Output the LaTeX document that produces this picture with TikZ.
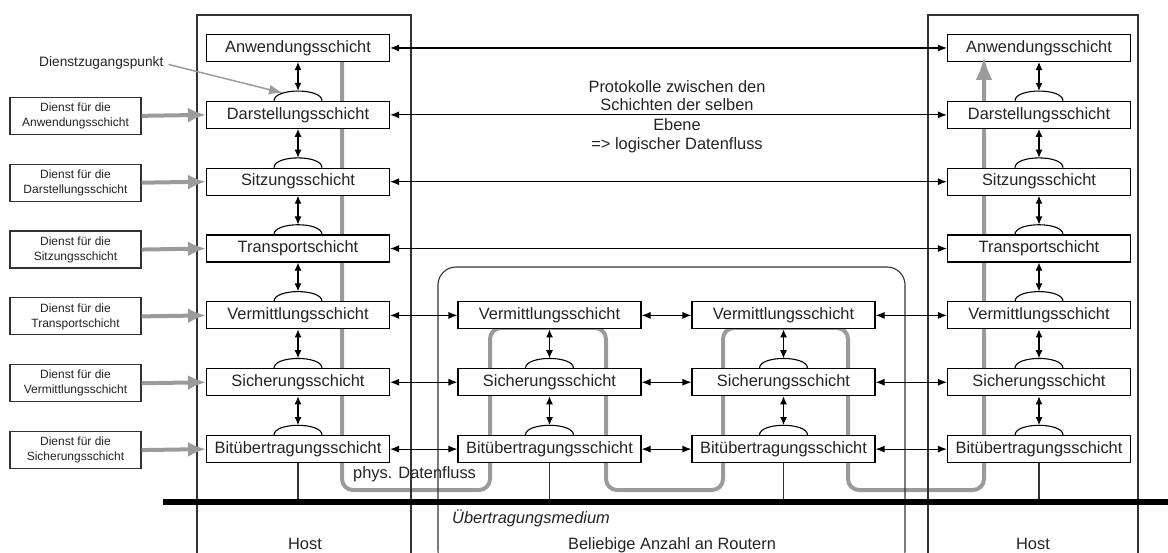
\documentclass[tikz,border=0pt]{standalone}
\usepackage{fontspec}
\setmainfont{Liberation Sans}
\usetikzlibrary{arrows.meta}

\definecolor{flowgray}{RGB}{155,155,155}
\definecolor{framegray}{RGB}{50,50,50}
\definecolor{inkgray}{RGB}{35,35,35}

\tikzset{
  layer/.style={draw=black, fill=white, line width=1.1pt, minimum width=183pt,
    minimum height=27pt, inner sep=0pt, text=inkgray,
    font=\fontsize{16.4}{19}\selectfont},
  svcbox/.style={draw=framegray, fill=white, line width=1.1pt, minimum width=131pt,
    minimum height=37pt, inner sep=0pt, align=center, text=inkgray,
    font=\fontsize{12}{15}\selectfont},
  plain/.style={inner sep=0pt, text=inkgray, font=\fontsize{16.4}{19}\selectfont},
  harr/.style={line width=1.1pt, {Latex[length=9pt,width=7pt]}-{Latex[length=9pt,width=7pt]}},
  varr/.style={line width=1.1pt, {Latex[length=8pt,width=7pt]}-{Latex[length=8pt,width=7pt]}},
  svcarr/.style={draw=flowgray, line width=4pt, -{Latex[length=18pt,width=15pt]}},
  flow/.style={draw=flowgray, line width=4pt},
  frame/.style={draw=framegray, line width=1.1pt},
  bump/.style={line width=1.1pt},
  medium/.style={line width=6pt, black},
  tapline/.style={line width=1.1pt, framegray}
}

\begin{document}
\begin{tikzpicture}[x=1pt,y=-1pt]
\useasboundingbox (0,0) rectangle (1168,553);
\clip (0,0) rectangle (1168,553);

% physical data flow (behind all boxes)
\draw[flow, rounded corners=11pt] (342,55) -- (342,490) -- (490,490) -- (490,328)
  -- (606,328) -- (606,490) -- (723,490) -- (723,328) -- (848,328) -- (848,490)
  -- (984,490) -- (984,75);

% host frames and router frame
\draw[frame] (197,560) -- (197,15) -- (411,15) -- (411,560);
\draw[frame] (928,560) -- (928,15) -- (1138,15) -- (1138,560);
\draw[frame, rounded corners=18pt] (438,267) rectangle (905,569);

% layer stacks
\foreach \n/\t [count=\k from 0] in {1/Anwendungsschicht, 2/Darstellungsschicht,
    3/Sitzungsschicht, 4/Transportschicht, 5/Vermittlungsschicht,
    6/Sicherungsschicht, 7/Bitübertragungsschicht} {
  \node[layer] (L\n) at (298,48+66.85*\k) {\t};
  \node[layer] (R\n) at (1039,48+66.85*\k) {\t};
}
\foreach \n/\t [count=\k from 4] in {5/Vermittlungsschicht, 6/Sicherungsschicht,
    7/Bitübertragungsschicht} {
  \node[layer] (A\n) at (549.5,48+66.85*\k) {\t};
  \node[layer] (B\n) at (783.5,48+66.85*\k) {\t};
}

% service access points and the vertical service arrows
\foreach \s in {L,R} {
  \foreach \u/\l in {1/2,2/3,3/4,4/5,5/6,6/7} {
    \draw[bump] ([xshift=-24pt]\s\l.north) .. controls +(0,-13) and +(0,-13)
      .. ([xshift=24pt]\s\l.north);
    \coordinate (\s top\l) at ([yshift=10pt]\s\l.north);
    \draw[varr] (\s\u.south) -- (\s top\l);
  }
}
\foreach \s in {A,B} {
  \foreach \u/\l in {5/6,6/7} {
    \draw[bump] ([xshift=-24pt]\s\l.north) .. controls +(0,-13) and +(0,-13)
      .. ([xshift=24pt]\s\l.north);
    \coordinate (\s top\l) at ([yshift=10pt]\s\l.north);
    \draw[varr] (\s\u.south) -- (\s top\l);
  }
}

% peer protocols (logical data flow)
\foreach \k in {1,2,3,4} {
  \draw[harr] (L\k.east) -- (R\k.west);
}
\foreach \k in {5,6,7} {
  \draw[harr] (L\k.east) -- (A\k.west);
  \draw[harr] (A\k.east) -- (B\k.west);
  \draw[harr] (B\k.east) -- (R\k.west);
}

% transmission medium and taps
\coordinate (m0) at (163,502);
\coordinate (m1) at (1168,502);
\foreach \s in {L,A,B,R} {
  \coordinate (\s tap) at (\s7.south |- m0);
  \draw[tapline] (\s7.south) -- (\s tap);
}
\draw[medium] (m0) -- (m1);

% arrow head of the physical flow, over the receiving layer
\coordinate (fin0) at (984,92);
\coordinate (fin1) at (984,57);
\draw[flow, -{Latex[length=23pt,width=17pt]}] (fin0) -- (fin1);

% services offered to the layer above
\foreach \n/\t [count=\k from 1] in {2/Anwendungsschicht, 3/Darstellungsschicht,
    4/Sitzungsschicht, 5/Transportschicht, 6/Vermittlungsschicht,
    7/Sicherungsschicht} {
  \node[svcbox] (S\n) at (75.5,49+66.85*\k) {Dienst für die\\\t};
  \draw[svcarr] (S\n.east) -- (L\n.west);
}

% service access point label
\node[plain, font=\fontsize{13.7}{16}\selectfont, anchor=base west] (dzp) at (39,67) {Dienstzugangspunkt};
\coordinate (sap) at (283,93);
\draw[draw=flowgray, line width=1.5pt, -{Latex[length=14pt,width=10pt]}]
  ([xshift=5pt,yshift=-1pt]dzp.east) -- (sap);

% explanatory texts
\node[plain, anchor=base] (p1) at (677,93) {Protokolle zwischen den};
\node[plain, anchor=base] (p2) at (677,111) {Schichten der selben};
\node[plain, anchor=base] (p3) at (677,131) {Ebene};
\node[plain, anchor=base] (p4) at (677,150) {=> logischer Datenfluss};
\node[plain, anchor=base west] (phys) at (353,478) {phys. Datenfluss};
\node[plain, anchor=base west, font=\fontsize{16.4}{19}\selectfont\itshape] (med) at (452,523) {Übertragungsmedium};
\node[plain, anchor=base] (rt) at (672,549) {Beliebige Anzahl an Routern};
\node[plain, anchor=base] (h1) at (305,549) {Host};
\node[plain, anchor=base] (h2) at (1033,549) {Host};
\end{tikzpicture}
\end{document}
